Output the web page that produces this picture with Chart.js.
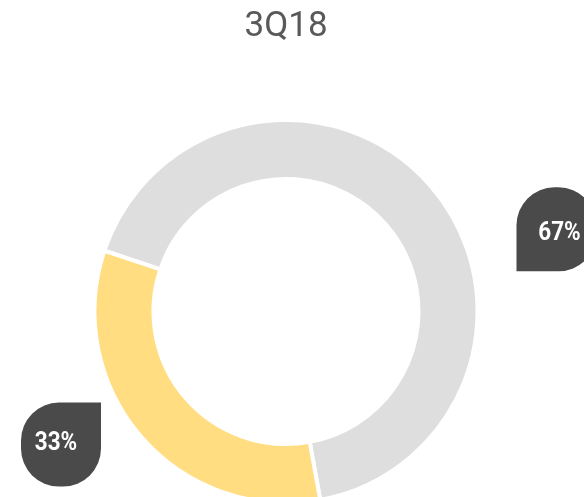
<!DOCTYPE html>
<html>
<head>
<meta charset="utf-8">
<script src="https://cdn.jsdelivr.net/npm/chart.js@4.4.1/dist/chart.umd.min.js"></script>
<style>
  body { margin: 0; overflow: hidden; background: #fff; }
  #wrap { position: relative; width: 584px; height: 540px; }
</style>
</head>
<body>
<div id="wrap"><canvas id="myChart"></canvas></div>
<script>
//  chart data
const chartTitle = '3Q18';
const labels = ['Other', 'Share'];
const values = [67, 33];
const colors = ['#dedede', '#ffdd80'];

//  where the callouts sit, relative to each slice's middle angle
const labelShift = [24.0, 10.3];   // degrees
const labelDist = [282.7, 261.4];  // px from the centre
const textNudge = [[3, 3], [-5, -2]];

//  draws the dark drop-shaped callouts with the percentages
const callouts = {
    id: 'callouts',
    afterDatasetsDraw(chart) {
        const ctx = chart.ctx;
        const arcs = chart.getDatasetMeta(0).data;
        const total = values.reduce((a, b) => a + b, 0);
        const w = 80, h = 84;
        const round = 38;
        arcs.forEach((arc, i) => {
            const p = arc.getProps(['x', 'y', 'startAngle', 'endAngle'], true);
            const mid = (p.startAngle + p.endAngle) / 2 + labelShift[i] * Math.PI / 180;
            const cx = p.x + Math.cos(mid) * labelDist[i];
            const cy = p.y + Math.sin(mid) * labelDist[i];
            const left = cx < p.x;
            const top = cy < p.y;
            // sharp corner faces the ring
            let radii;
            if (left && !top) radii = [round, 0, round, round];       // sharp top-right
            else if (!left && top) radii = [round, round, round, 0];  // sharp bottom-left
            else if (left && top) radii = [round, round, 0, round];   // sharp bottom-right
            else radii = [0, round, round, round];                    // sharp top-left
            ctx.save();
            ctx.fillStyle = '#4a4a4a';
            ctx.beginPath();
            ctx.roundRect(cx - w / 2, cy - h / 2, w, h, radii);
            ctx.fill();
            ctx.fillStyle = '#ffffff';
            ctx.font = 'bold 25px Roboto';
            ctx.textAlign = 'center';
            ctx.textBaseline = 'middle';
            ctx.translate(cx + textNudge[i][0], cy + textNudge[i][1]);
            ctx.scale(0.9, 1);
            ctx.fillText(Math.round(values[i] / total * 100) + '%', 0, 1);
            ctx.restore();
        });
    }
};

function draw_graph() {
    const ctx = document.getElementById('myChart');
    new Chart(ctx, {
        type: 'doughnut',
        data: {
            labels: labels,
            datasets: [{
                data: values,
                backgroundColor: colors,
                borderColor: '#ffffff',
                borderWidth: 4,
                hoverOffset: 0
            }]
        },
        options: {
            responsive: true,
            maintainAspectRatio: false,
            animation: false,
            rotation: -71.5,
            radius: 191.5,
            cutout: '69.2%',
            layout: { padding: { top: 0, right: 12, bottom: 17, left: 0 } },
            events: [],
            plugins: {
                legend: { display: false },
                tooltip: { enabled: false },
                title: {
                    display: true,
                    text: chartTitle,
                    color: '#595959',
                    font: { family: 'Roboto', size: 35, weight: 'normal', lineHeight: 1.2 },
                    padding: { top: 6, bottom: 52 }
                }
            }
        },
        plugins: [callouts]
    });
}
draw_graph();
</script>
</body>
</html>
